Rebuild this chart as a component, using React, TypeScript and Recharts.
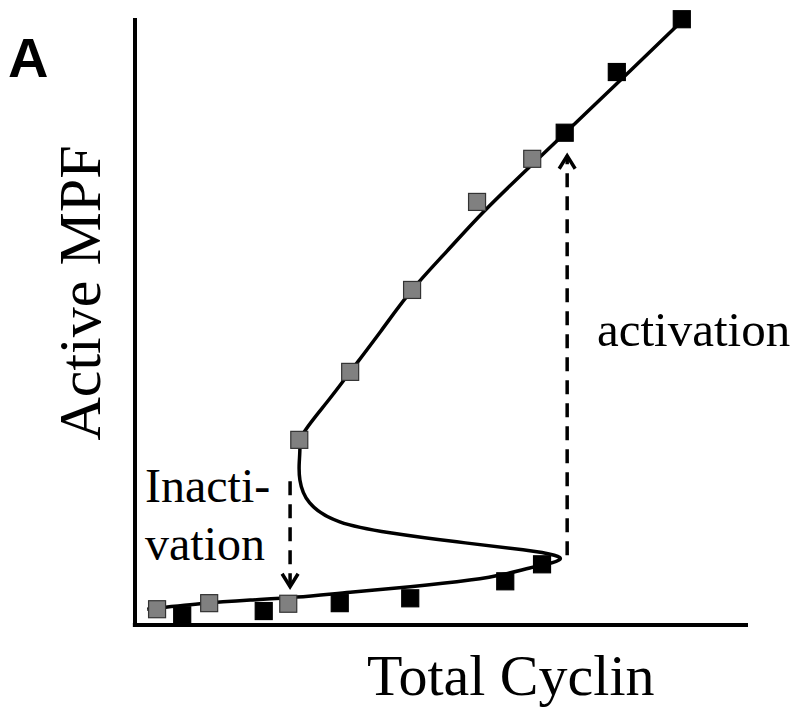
import { ComposedChart, Line, Scatter, XAxis, YAxis, ReferenceLine, Customized } from "recharts";

// grey squares (cyclin falling)
const grayPoints = [
  { x: 3.6, y: 2.6 },
  { x: 12.1, y: 3.6 },
  { x: 25.0, y: 3.5 },
  { x: 26.8, y: 30.5 },
  { x: 35.1, y: 41.7 },
  { x: 45.2, y: 55.2 },
  { x: 55.8, y: 69.7 },
  { x: 64.8, y: 76.8 },
];

// black squares (cyclin rising)
const blackPoints = [
  { x: 7.7, y: 1.6 },
  { x: 21.0, y: 2.3 },
  { x: 33.4, y: 3.6 },
  { x: 44.9, y: 4.4 },
  { x: 60.4, y: 7.2 },
  { x: 66.4, y: 10.0 },
  { x: 70.1, y: 81.1 },
  { x: 78.6, y: 91.1 },
  { x: 89.2, y: 99.8 },
];

// S-shaped steady state curve: lower branch -> middle -> upper branch
const curvePoints = [
  { x: 2.0, y: 2.6 },
  { x: 10.6, y: 3.5 },
  { x: 18.8, y: 4.1 },
  { x: 26.4, y: 4.6 },
  { x: 35.1, y: 5.4 },
  { x: 44.9, y: 6.3 },
  { x: 54.6, y: 7.4 },
  { x: 60.4, y: 8.4 },
  { x: 64.4, y: 9.4 },
  { x: 67.4, y: 10.1 },
  { x: 69.3, y: 10.8 },
  { x: 68.4, y: 11.5 },
  { x: 63.3, y: 12.4 },
  { x: 52.5, y: 13.7 },
  { x: 41.6, y: 15.2 },
  { x: 33.4, y: 17.0 },
  { x: 28.5, y: 20.1 },
  { x: 26.9, y: 23.9 },
  { x: 26.8, y: 26.9 },
  { x: 26.9, y: 29.2 },
  { x: 27.6, y: 31.8 },
  { x: 31.3, y: 36.7 },
  { x: 35.1, y: 41.7 },
  { x: 40.1, y: 48.4 },
  { x: 45.2, y: 55.2 },
  { x: 50.9, y: 61.6 },
  { x: 56.8, y: 68.0 },
  { x: 64.4, y: 75.5 },
  { x: 72.6, y: 83.4 },
  { x: 80.8, y: 91.3 },
  { x: 88.5, y: 98.8 },
];

// dashed transitions
const activation = { x: 70.5, from: 11.5, to: 77.3 };
const inactivation = { x: 25.3, from: 23.7, to: 6.3 };
const arrowTips = [
  { x: activation.x, y: activation.to, dir: -1 },
  { x: inactivation.x, y: inactivation.to, dir: 1 },
];

const serif = "'Liberation Serif', 'Times New Roman', serif";

const square = (fill: string, stroke: string) => (props: any) => {
  const { cx, cy } = props;
  return (
    <rect x={cx - 8.5} y={cy - 8.5} width={17} height={17} fill={fill} stroke={stroke} strokeWidth={1.2} />
  );
};

const ArrowHead = (props: any) => {
  const { cx, cy, payload } = props;
  const d = payload.dir;
  return (
    <path
      d={`M${cx - 8},${cy - 13 * d} L${cx},${cy} L${cx + 8},${cy - 13 * d}`}
      fill="none"
      stroke="#000"
      strokeWidth={3.5}
    />
  );
};

const Labels = () => (
  <g>
    <text x={8} y={77} fontFamily="'Liberation Sans', Arial, sans-serif" fontWeight="bold" fontSize={56}>
      A
    </text>
    <text x={145} y={502} fontFamily={serif} fontSize={48}>Inacti-</text>
    <text x={145} y={560} fontFamily={serif} fontSize={48}>vation</text>
    <text x={597} y={346} fontFamily={serif} fontSize={49}>activation</text>
    <text x={367} y={695} fontFamily={serif} fontSize={58}>Total Cyclin</text>
    <text
      x={100}
      y={293}
      transform="rotate(-90 100 293)"
      textAnchor="middle"
      fontFamily={serif}
      fontSize={60}
    >
      Active MPF
    </text>
  </g>
);

export default function App() {
  return (
    <div style={{ position: "absolute", left: 0, top: 0, background: "#fff" }}>
      <ComposedChart width={800} height={716} margin={{ top: 18, right: 52, bottom: 91, left: 135 }}>
        <XAxis type="number" dataKey="x" domain={[0, 100]} hide />
        <YAxis type="number" dataKey="y" domain={[0, 100]} hide />
        {/* axis lines */}
        <ReferenceLine
          segment={[{ x: 0, y: -0.35 }, { x: 0, y: 100 }]}
          stroke="#000"
          strokeWidth={4}
          ifOverflow="visible"
        />
        <ReferenceLine
          segment={[{ x: -0.35, y: 0 }, { x: 100, y: 0 }]}
          stroke="#000"
          strokeWidth={4}
          ifOverflow="visible"
        />
        <ReferenceLine
          segment={[{ x: activation.x, y: activation.from }, { x: activation.x, y: activation.to }]}
          stroke="#000"
          strokeWidth={3.5}
          strokeDasharray="14 9"
        />
        <ReferenceLine
          segment={[{ x: inactivation.x, y: inactivation.from }, { x: inactivation.x, y: inactivation.to }]}
          stroke="#000"
          strokeWidth={3.5}
          strokeDasharray="14 9"
        />
        <Line
          data={curvePoints}
          dataKey="y"
          type="natural"
          stroke="#000"
          strokeWidth={3.5}
          dot={false}
          isAnimationActive={false}
        />
        <Scatter data={arrowTips} shape={ArrowHead} isAnimationActive={false} />
        <Scatter data={blackPoints} shape={square("#000", "#000")} isAnimationActive={false} />
        <Scatter data={grayPoints} shape={square("#808080", "#333")} isAnimationActive={false} />
        <Customized component={Labels} />
      </ComposedChart>
    </div>
  );
}
